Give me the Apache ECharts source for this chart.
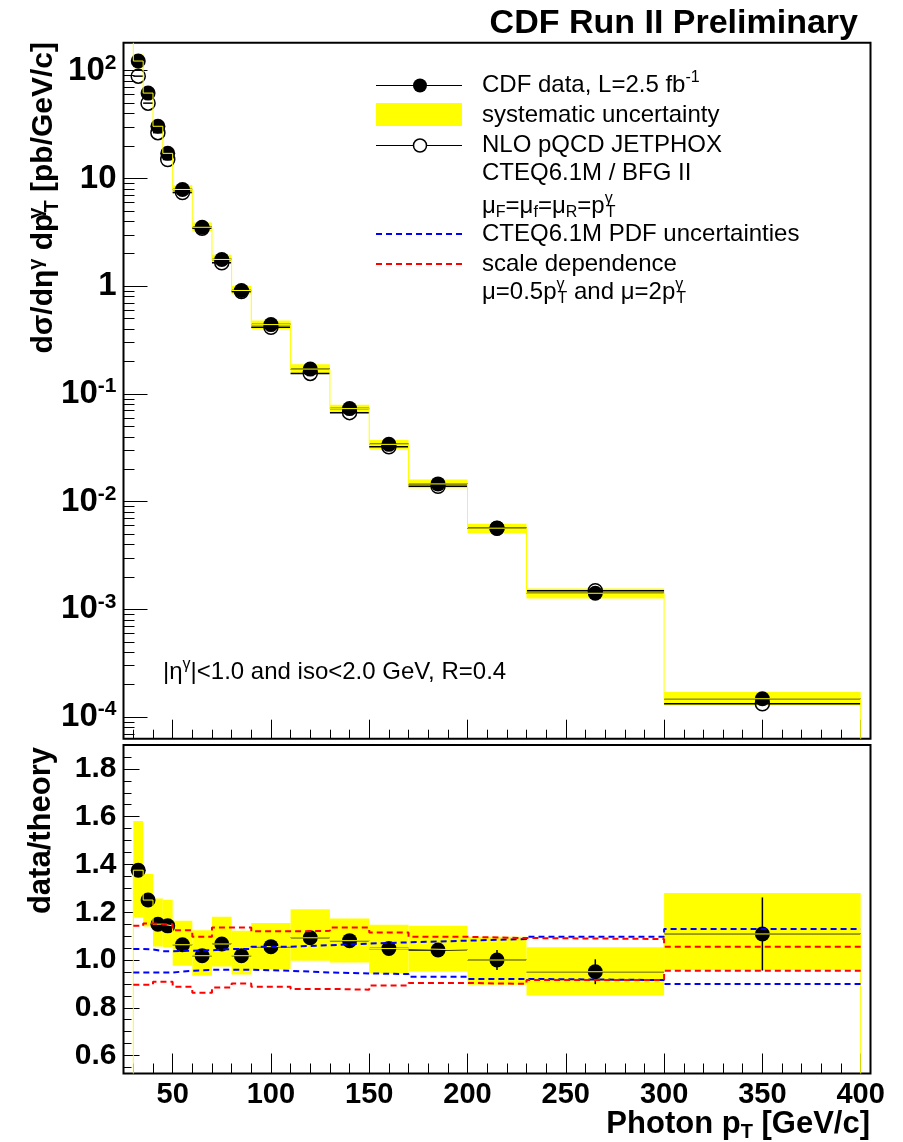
<!DOCTYPE html>
<html>
<head>
<meta charset="utf-8">
<script src="https://cdn.jsdelivr.net/npm/echarts@6/dist/echarts.min.js"></script>
<style>
html, body { margin: 0; padding: 0; background: #fff; }
#chart { width: 903px; height: 1142px; }
</style>
</head>
<body>
<div id="chart"></div>
<script>
// Photon pT bin edges [GeV/c]
const binEdges = [30, 35, 40, 45, 50, 60, 70, 80, 90, 110, 130, 150, 170, 200, 230, 300, 400];

// Measured isolated-photon cross section d2sigma/deta dpT [pb/GeV/c]
const dataXsec = [123, 62, 30.5, 17.1, 7.9, 3.52, 1.77, 0.912, 0.44, 0.170, 0.0730, 0.0340,
                  0.0146, 0.00567, 0.00141, 1.48e-4];
// NLO pQCD JETPHOX prediction [pb/GeV/c]
const theoryXsec = [89, 50, 26.6, 15.0, 7.4, 3.45, 1.65, 0.89, 0.415, 0.155, 0.067, 0.0323,
                    0.0139, 0.00567, 0.00149, 1.33e-4];

// data / theory
const ratio = [1.376, 1.251, 1.150, 1.143, 1.064, 1.018, 1.067, 1.018, 1.056, 1.093, 1.081,
               1.048, 1.042, 1.000, 0.951, 1.109];
// statistical error on the ratio
const ratioStat = [0.010, 0.010, 0.008, 0.008, 0.008, 0.008, 0.010, 0.010, 0.010, 0.012, 0.015,
                   0.020, 0.020, 0.042, 0.052, 0.153];
// systematic band on the ratio (lower / upper edge)
const sysLow  = [1.178, 1.140, 1.057, 1.053, 0.976, 0.934, 0.973, 0.939, 0.962, 0.997, 0.990,
                 0.946, 0.952, 0.897, 0.851, 0.958];
const sysHigh = [1.582, 1.360, 1.258, 1.252, 1.164, 1.125, 1.181, 1.122, 1.155, 1.213, 1.174,
                 1.148, 1.143, 1.097, 1.053, 1.280];
// CTEQ6.1M PDF uncertainty envelope
const pdfUp   = [1.046, 1.044, 1.037, 1.037, 1.039, 1.041, 1.046, 1.046, 1.056, 1.062, 1.069,
                 1.074, 1.081, 1.088, 1.097, 1.130];
const pdfDown = [0.948, 0.948, 0.948, 0.948, 0.955, 0.959, 0.959, 0.959, 0.955, 0.948, 0.944,
                 0.941, 0.930, 0.921, 0.916, 0.900];
// scale variation mu = 0.5 pT and mu = 2 pT
const scaleUp   = [1.143, 1.153, 1.150, 1.150, 1.125, 1.097, 1.136, 1.136, 1.120, 1.122, 1.136,
                   1.115, 1.097, 1.092, 1.088, 1.056];
const scaleDown = [0.897, 0.897, 0.909, 0.909, 0.888, 0.863, 0.885, 0.902, 0.888, 0.879, 0.876,
                   0.893, 0.904, 0.900, 0.916, 0.955];

// axis ranges and tick labels
const ptRange = [25, 405];
const xsecRange = [6.3e-5, 182];
const ratioRange = [0.525, 1.9];
const ptTicks = [50, 100, 150, 200, 250, 300, 350, 400];
const xsecTicks = [1e-4, 1e-3, 1e-2, 1e-1, 1, 10, 100];
const ratioTicks = [0.6, 0.8, 1.0, 1.2, 1.4, 1.6, 1.8];

// minor ticks
const ptMinor = [];
for (let v = 30; v <= 400; v += 10) ptMinor.push(v);
const xsecMinor = [];
for (let e = -5; e <= 2; e++) {
  for (let k = 2; k <= 9; k++) {
    const v = k * Math.pow(10, e);
    if (v > xsecRange[0] && v < xsecRange[1]) xsecMinor.push(v);
  }
}
const ratioMinor = [];
for (let i = 11; i <= 37; i++) ratioMinor.push(+(i * 0.05).toFixed(2));

const FONT = '"Liberation Sans", Arial, Helvetica, sans-serif';
const YELLOW = '#ffff00';

const centers = binEdges.slice(0, -1).map((e, i) => (e + binEdges[i + 1]) / 2);

function stepPoints(vals, startVal, endVal) {
  const pts = [];
  if (startVal != null) pts.push([binEdges[0], startVal]);
  vals.forEach((v, i) => { pts.push([binEdges[i], v]); pts.push([binEdges[i + 1], v]); });
  if (endVal != null) pts.push([binEdges[binEdges.length - 1], endVal]);
  return pts;
}

// systematic boxes: [lowEdge, highEdge, yLow, yHigh]
const ratioBoxes = ratio.map((r, i) => [binEdges[i], binEdges[i + 1], sysLow[i], sysHigh[i]]);
const xsecBoxes = dataXsec.map((d, i) => [binEdges[i], binEdges[i + 1],
  d * sysLow[i] / ratio[i], d * sysHigh[i] / ratio[i]]);

// error bars: [lowEdge, highEdge, center, y, yErrLow, yErrHigh]
const ratioBars = ratio.map((r, i) => [binEdges[i], binEdges[i + 1], centers[i], r,
  r - ratioStat[i], r + ratioStat[i]]);
const xsecBars = dataXsec.map((d, i) => [binEdges[i], binEdges[i + 1], centers[i], d,
  d * (1 - ratioStat[i] / ratio[i]), d * (1 + ratioStat[i] / ratio[i])]);
const theoryBars = theoryXsec.map((t, i) => [binEdges[i], binEdges[i + 1], centers[i], t, t, t]);

function boxItem(params, api) {
  const p0 = api.coord([api.value(0), api.value(3)]);
  const p1 = api.coord([api.value(1), api.value(2)]);
  return {
    type: 'rect',
    shape: { x: p0[0], y: p0[1], width: p1[0] - p0[0], height: p1[1] - p0[1] },
    style: { fill: YELLOW }
  };
}
function barItem(params, api) {
  const a = api.coord([api.value(0), api.value(3)]);
  const b = api.coord([api.value(1), api.value(3)]);
  const c = api.coord([api.value(2), api.value(4)]);
  const d = api.coord([api.value(2), api.value(5)]);
  const st = { stroke: '#000', lineWidth: 1.5 };
  return {
    type: 'group',
    children: [
      { type: 'line', shape: { x1: a[0], y1: a[1], x2: b[0], y2: b[1] }, style: st },
      { type: 'line', shape: { x1: c[0], y1: c[1], x2: d[0], y2: d[1] }, style: st }
    ]
  };
}

const supStyle = { fontFamily: FONT, fontWeight: 'bold', fontSize: 21, lineHeight: 21, verticalAlign: 'top', color: '#000' };

function xsecLabel(v) {
  const e = Math.round(Math.log10(v));
  if (e === 0) return '{b|1}';
  if (e === 1) return '{b|10}';
  return '{b|10}{sup|' + e + '}';
}

const gridTop = { left: 123.5, top: 42.7, width: 747, height: 696 };
const gridBot = { left: 123.5, top: 745, width: 747, height: 328.5 };

function xAx(gridIndex, ticks, len, labels) {
  return {
    type: 'value', gridIndex, min: ptRange[0], max: ptRange[1], position: 'bottom',
    axisLine: { show: false }, splitLine: { show: false },
    axisTick: { show: true, inside: true, length: len, customValues: ticks,
                lineStyle: { color: '#000', width: 1 } },
    axisLabel: labels ? {
      show: true, customValues: labels, margin: 7, color: '#000',
      fontFamily: FONT, fontWeight: 'bold', fontSize: 29
    } : { show: false }
  };
}

const option = {
  animation: false,
  backgroundColor: '#fff',
  grid: [
    Object.assign({ show: true, borderColor: '#000', borderWidth: 2, backgroundColor: 'transparent', containLabel: false, outerBoundsMode: 'none' }, gridTop),
    Object.assign({ show: true, borderColor: '#000', borderWidth: 2, backgroundColor: 'transparent', containLabel: false, outerBoundsMode: 'none' }, gridBot)
  ],
  xAxis: [
    xAx(0, ptTicks, 19, null),
    xAx(0, ptMinor, 9, null),
    xAx(1, ptTicks, 20, ptTicks),
    xAx(1, ptMinor, 10, null)
  ],
  yAxis: [
    {
      type: 'log', logBase: 10, gridIndex: 0, min: xsecRange[0], max: xsecRange[1], position: 'left',
      axisLine: { show: false }, splitLine: { show: false }, minorTick: { show: false },
      axisTick: { show: true, inside: true, length: 24, customValues: xsecTicks, lineStyle: { color: '#000', width: 1 } },
      axisLabel: {
        show: true, customValues: xsecTicks, margin: 7, formatter: xsecLabel,
        rich: {
          b: { fontFamily: FONT, fontWeight: 'bold', fontSize: 33, lineHeight: 36, color: '#000' },
          sup: supStyle
        }
      }
    },
    {
      type: 'log', logBase: 10, gridIndex: 0, min: xsecRange[0], max: xsecRange[1], position: 'left',
      axisLine: { show: false }, splitLine: { show: false },
      axisTick: { show: true, inside: true, length: 11, customValues: xsecMinor, lineStyle: { color: '#000', width: 1 } },
      axisLabel: { show: false }
    },
    {
      type: 'value', gridIndex: 1, min: ratioRange[0], max: ratioRange[1], position: 'left',
      axisLine: { show: false }, splitLine: { show: false },
      axisTick: { show: true, inside: true, length: 16, customValues: ratioTicks, lineStyle: { color: '#000', width: 1 } },
      axisLabel: {
        show: true, customValues: ratioTicks, margin: 7, color: '#000',
        fontFamily: FONT, fontWeight: 'bold', fontSize: 30,
        formatter: v => v.toFixed(1)
      }
    },
    {
      type: 'value', gridIndex: 1, min: ratioRange[0], max: ratioRange[1], position: 'left',
      axisLine: { show: false }, splitLine: { show: false },
      axisTick: { show: true, inside: true, length: 8, customValues: ratioMinor, lineStyle: { color: '#000', width: 1 } },
      axisLabel: { show: false }
    }
  ],
  series: [
    // ---- cross section panel ----
    { type: 'custom', name: 'systematic uncertainty', xAxisIndex: 0, yAxisIndex: 0,
      renderItem: boxItem, data: xsecBoxes, encode: { x: [0, 1], y: [2, 3] }, clip: true },
    { type: 'line', xAxisIndex: 0, yAxisIndex: 0, showSymbol: false, silent: true,
      data: stepPoints(dataXsec, xsecRange[1], xsecRange[0]),
      lineStyle: { color: YELLOW, width: 1 } },
    { type: 'custom', name: 'theory', xAxisIndex: 0, yAxisIndex: 0,
      renderItem: barItem, data: theoryBars, encode: { x: [0, 1, 2], y: [3, 4, 5] } },
    { type: 'custom', name: 'data bars', xAxisIndex: 0, yAxisIndex: 0,
      renderItem: barItem, data: xsecBars, encode: { x: [0, 1, 2], y: [3, 4, 5] } },
    { type: 'scatter', name: 'NLO pQCD JETPHOX', xAxisIndex: 0, yAxisIndex: 0,
      symbol: 'circle', symbolSize: 14,
      itemStyle: { color: 'rgba(0,0,0,0)', borderColor: '#000', borderWidth: 1.5, opacity: 1 },
      data: theoryXsec.map((t, i) => [centers[i], t]) },
    { type: 'scatter', name: 'CDF data', xAxisIndex: 0, yAxisIndex: 0,
      symbol: 'circle', symbolSize: 15, itemStyle: { color: '#000', opacity: 1 },
      data: dataXsec.map((d, i) => [centers[i], d]) },

    // ---- ratio panel ----
    { type: 'custom', xAxisIndex: 2, yAxisIndex: 2,
      renderItem: boxItem, data: ratioBoxes, encode: { x: [0, 1], y: [2, 3] }, clip: true },
    { type: 'line', xAxisIndex: 2, yAxisIndex: 2, showSymbol: false, silent: true,
      data: stepPoints(ratio, ratioRange[0], ratioRange[0]),
      lineStyle: { color: YELLOW, width: 1 } },
    { type: 'line', xAxisIndex: 2, yAxisIndex: 2, showSymbol: false, silent: true,
      data: stepPoints(pdfUp), lineStyle: { color: '#0000ff', width: 2, type: [6, 4] } },
    { type: 'line', xAxisIndex: 2, yAxisIndex: 2, showSymbol: false, silent: true,
      data: stepPoints(pdfDown), lineStyle: { color: '#0000ff', width: 2, type: [6, 4] } },
    { type: 'line', xAxisIndex: 2, yAxisIndex: 2, showSymbol: false, silent: true,
      data: stepPoints(scaleUp), lineStyle: { color: '#ff0000', width: 2, type: [6, 4] } },
    { type: 'line', xAxisIndex: 2, yAxisIndex: 2, showSymbol: false, silent: true,
      data: stepPoints(scaleDown), lineStyle: { color: '#ff0000', width: 2, type: [6, 4] } },
    { type: 'custom', xAxisIndex: 2, yAxisIndex: 2,
      renderItem: barItem, data: ratioBars, encode: { x: [0, 1, 2], y: [3, 4, 5] } },
    { type: 'scatter', xAxisIndex: 2, yAxisIndex: 2,
      symbol: 'circle', symbolSize: 15, itemStyle: { color: '#000', opacity: 1 },
      data: ratio.map((r, i) => [centers[i], r]) }
  ],
  graphic: { elements: [] }
};

// ---- texts and legend ----
const T = (fs, bold) => ({ fontFamily: FONT, fontSize: fs, fontWeight: bold ? 'bold' : 'normal', lineHeight: 30, color: '#000' });
const legRich = {
  n: T(24, false),
  sup: { fontFamily: FONT, fontSize: 16, lineHeight: 16, verticalAlign: 'top', color: '#000' },
  supz: { fontFamily: FONT, fontSize: 16, lineHeight: 16, verticalAlign: 'top', width: 1, align: 'left', color: '#000' },
  sub: { fontFamily: FONT, fontSize: 16, lineHeight: 16, verticalAlign: 'bottom', color: '#000' }
};
function txt(x, y, text, rich, extra) {
  return {
    type: 'text', x, y, z: 100,
    style: Object.assign({
      text, rich, fill: '#000',
      align: 'left', textAlign: 'left', verticalAlign: 'middle', textVerticalAlign: 'middle'
    }, extra || {})
  };
}
const els = option.graphic.elements;

// title
els.push(txt(858, 24, '{t|CDF Run II Preliminary}', { t: T(34, true) }, { align: 'right', textAlign: 'right' }));

// legend
const lx0 = 376, lx1 = 462, lxc = 420, tx = 482;
els.push({ type: 'line', z: 100, shape: { x1: lx0, y1: 85.5, x2: lx1, y2: 85.5 }, style: { stroke: '#000', lineWidth: 1 } });
els.push({ type: 'circle', z: 101, shape: { cx: lxc, cy: 85.5, r: 7 }, style: { fill: '#000' } });
els.push(txt(tx, 85, '{n|CDF data, L=2.5 fb}{sup|-1}', legRich));
els.push({ type: 'rect', z: 100, shape: { x: lx0, y: 103, width: lx1 - lx0, height: 23 }, style: { fill: YELLOW } });
els.push(txt(tx, 115, '{n|systematic uncertainty}', legRich));
els.push({ type: 'line', z: 100, shape: { x1: lx0, y1: 145.5, x2: lx1, y2: 145.5 }, style: { stroke: '#000', lineWidth: 1 } });
els.push({ type: 'circle', z: 101, shape: { cx: lxc, cy: 145.5, r: 6.5 }, style: { fill: '#fff', stroke: '#000', lineWidth: 1.5 } });
els.push(txt(tx, 145, '{n|NLO pQCD JETPHOX}', legRich));
els.push(txt(tx, 173, '{n|CTEQ6.1M / BFG II}', legRich));
els.push(txt(tx, 206, '{n|μ}{sub|F}{n|=μ}{sub|f}{n|=μ}{sub|R}{n|=p}{supz|γ}{sub|T}', legRich));
els.push({ type: 'line', z: 100, shape: { x1: lx0, y1: 234, x2: lx1, y2: 234 }, style: { stroke: '#0000ff', lineWidth: 2, lineDash: [6, 4] } });
els.push(txt(tx, 234, '{n|CTEQ6.1M PDF uncertainties}', legRich));
els.push({ type: 'line', z: 100, shape: { x1: lx0, y1: 264, x2: lx1, y2: 264 }, style: { stroke: '#ff0000', lineWidth: 2, lineDash: [6, 4] } });
els.push(txt(tx, 264, '{n|scale dependence}', legRich));
els.push(txt(tx, 292, '{n|μ=0.5p}{supz|γ}{sub|T}{n| and μ=2p}{supz|γ}{sub|T}', legRich));

// kinematic selection
els.push(txt(163, 672, '{n||η}{sup|γ}{n||<1.0 and iso<2.0 GeV, R=0.4}', legRich));

// axis titles
const titleRich = {
  b: Object.assign(T(30, true), { lineHeight: 36 }),
  sup: { fontFamily: FONT, fontWeight: 'bold', fontSize: 20, lineHeight: 20, verticalAlign: 'top', color: '#000' },
  supz: { fontFamily: FONT, fontWeight: 'bold', fontSize: 20, lineHeight: 20, verticalAlign: 'top', width: 1, align: 'left', color: '#000' },
  sub: { fontFamily: FONT, fontWeight: 'bold', fontSize: 20, lineHeight: 20, verticalAlign: 'bottom', color: '#000' }
};
els.push(Object.assign(txt(44, 42, '{b|dσ/dη}{sup|γ}{b| dp}{supz|γ}{sub|T}{b| [pb/GeV/c]}', titleRich,
  { align: 'right', textAlign: 'right' }), { rotation: Math.PI / 2 }));
els.push(Object.assign(txt(41, 747, '{b|data/theory}', { b: T(31, true) },
  { align: 'right', textAlign: 'right' }), { rotation: Math.PI / 2 }));
const xTitleRich = {
  b: Object.assign(T(31, true), { lineHeight: 36 }),
  sub: { fontFamily: FONT, fontWeight: 'bold', fontSize: 20, lineHeight: 20, verticalAlign: 'bottom', color: '#000' }
};
els.push(txt(870, 1124, '{b|Photon p}{sub|T}{b| [GeV/c]}', xTitleRich, { align: 'right', textAlign: 'right' }));

const chart = echarts.init(document.getElementById('chart'), null, { renderer: 'canvas' });
chart.setOption(option);
</script>
</body>
</html>
